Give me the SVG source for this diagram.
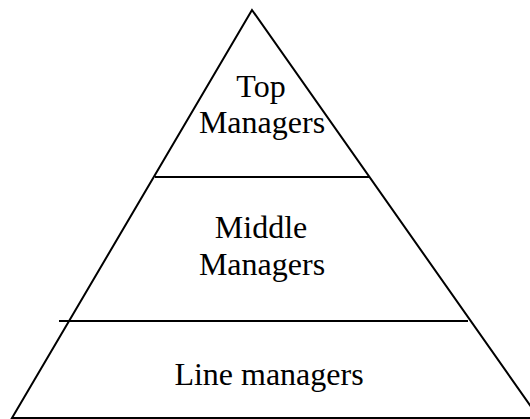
<svg xmlns="http://www.w3.org/2000/svg" width="530" height="419" viewBox="0 0 530 419">
<style>
.ln{stroke:#000;stroke-width:2;fill:none}
.t{font-family:"Liberation Serif","Times New Roman",serif;font-size:32px;fill:#000;text-anchor:middle}
</style>
<rect width="530" height="419" fill="#fff"/>
<g id="pyramid">
<polygon class="ln" points="252,10 12,418 539,418"/>
</g>
<g id="connectors">
<line class="ln" x1="155" y1="177" x2="370" y2="177"/>
<line class="ln" x1="59" y1="321" x2="468" y2="321"/>
</g>
<g id="top">
<text class="t" x="261" y="97">Top</text>
<text class="t" x="262" y="133">Managers</text>
</g>
<g id="middle">
<text class="t" x="261" y="238">Middle</text>
<text class="t" x="262" y="275">Managers</text>
</g>
<g id="line">
<text class="t" x="269" y="385">Line managers</text>
</g>
</svg>
